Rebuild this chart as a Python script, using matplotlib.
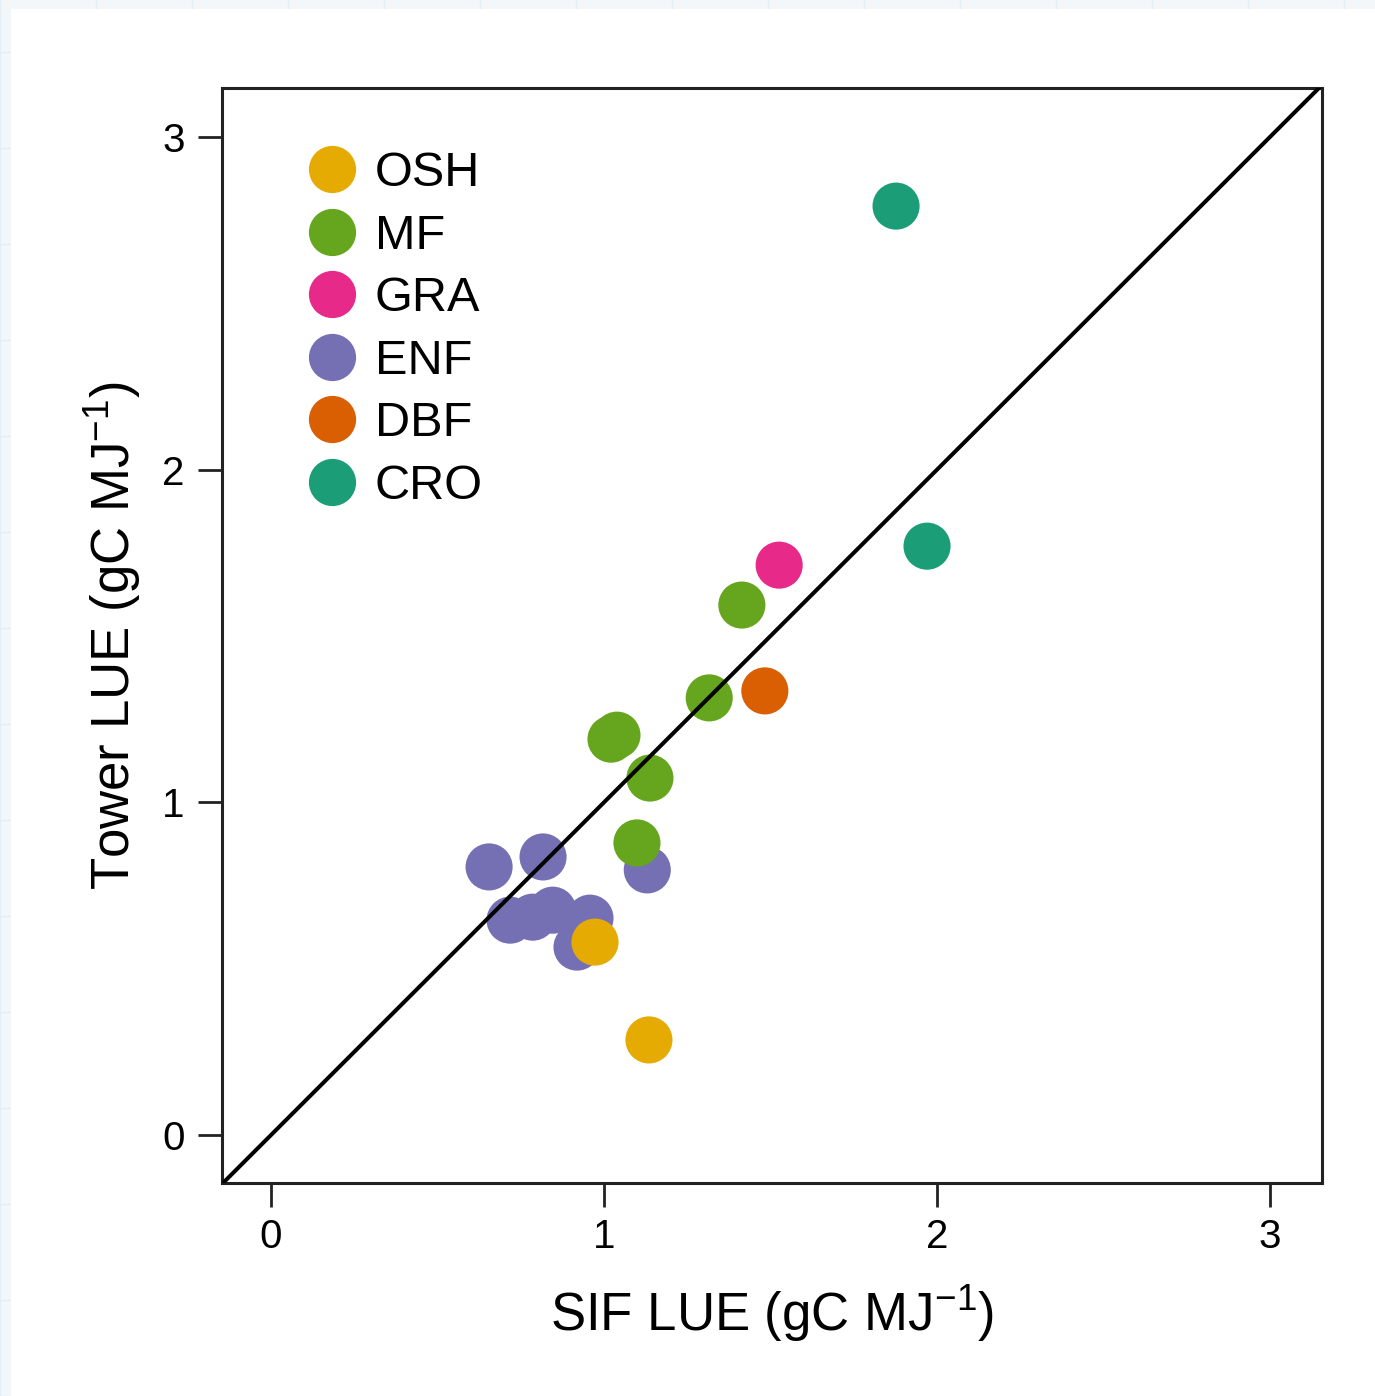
import numpy as np
import matplotlib
matplotlib.use("Agg")
import matplotlib.pyplot as plt
from matplotlib.patches import Rectangle

plt.rcParams['font.family'] = ['Liberation Sans', 'DejaVu Sans']
plt.rcParams['mathtext.fontset'] = 'custom'
plt.rcParams['mathtext.rm'] = 'Liberation Sans'
plt.rcParams['mathtext.it'] = 'Liberation Sans'

# data
groups = ['OSH', 'MF', 'GRA', 'ENF', 'DBF', 'CRO']
colors = ['#E6AB02', '#66A61E', '#E7298A', '#7570B3', '#D95F02', '#1B9E77']
# points drawn in this order so overlaps look like the original
enf_x = [0.655, 0.817, 1.130, 0.718, 0.786, 0.846, 0.958, 0.919]
enf_y = [0.806, 0.836, 0.797, 0.646, 0.655, 0.676, 0.652, 0.565]
mf_x = [1.414, 1.316, 1.039, 1.021, 1.138, 1.099]
mf_y = [1.593, 1.314, 1.202, 1.190, 1.073, 0.878]
osh_x = [0.973, 1.135]
osh_y = [0.580, 0.286]
gra_x = [1.526]
gra_y = [1.713]
dbf_x = [1.483]
dbf_y = [1.335]
cro_x = [1.877, 1.970]
cro_y = [2.792, 1.770]

series = {
    'ENF': (enf_x, enf_y),
    'MF': (mf_x, mf_y),
    'OSH': (osh_x, osh_y),
    'GRA': (gra_x, gra_y),
    'DBF': (dbf_x, dbf_y),
    'CRO': (cro_x, cro_y),
}
col = dict(zip(groups, colors))

fig = plt.figure(figsize=(13.75, 13.96), dpi=100)
fig.patch.set_facecolor('#f3f7fa')
# faint page grid, only visible in the thin margin
for gx in np.arange(0, 1375, 96):
    fig.add_artist(plt.Line2D([gx / 1375, gx / 1375], [0, 1], color='#e3edf5', lw=1, zorder=-3))
for gy in np.arange(0, 1396, 96):
    fig.add_artist(plt.Line2D([0, 1], [gy / 1396, gy / 1396], color='#e3edf5', lw=1, zorder=-3))
fig.add_artist(Rectangle((11 / 1375, 0), 1, 1 - 9 / 1396, transform=fig.transFigure,
                         facecolor='white', edgecolor='none', zorder=-2))

ax = fig.add_axes([222 / 1375, 1 - 1183 / 1396, 1100 / 1375, 1095 / 1396])
ax.set_facecolor('white')

for g in ['ENF', 'MF', 'OSH', 'GRA', 'DBF', 'CRO']:
    x, y = series[g]
    ax.scatter(x, y, s=1150, color=col[g], edgecolors='none', zorder=3)

ax.plot([-0.2, 3.3], [-0.2, 3.3], color='black', lw=2.9, zorder=4)
ax.set_xlim(-0.147, 3.156)
ax.set_ylim(-0.144, 3.147)

ax.set_xticks([0, 1, 2, 3])
ax.set_yticks([0, 1, 2, 3])
ax.tick_params(length=17, width=2, labelsize=29, pad=10, color='#222222')
ax.tick_params(axis='x', pad=8)
for sp in ax.spines.values():
    sp.set_linewidth(2.2)
    sp.set_color('#222222')

ax.set_xlabel('SIF LUE (gC MJ$^{-1}$)', fontsize=38, labelpad=20)
ax.set_ylabel('Tower LUE (gC MJ$^{-1}$)', fontsize=38, labelpad=14)

handles = [plt.Line2D([], [], marker='o', linestyle='none', markersize=34,
                      markerfacecolor=col[g], markeredgecolor='none') for g in groups]
ax.legend(handles, groups, loc='upper left', bbox_to_anchor=(0.06, 0.96),
          frameon=False, fontsize=35, handlelength=1.0, handletextpad=0.38,
          labelspacing=0.36, borderaxespad=0)

fig.savefig('out.png', dpi=100, facecolor=fig.get_facecolor())
